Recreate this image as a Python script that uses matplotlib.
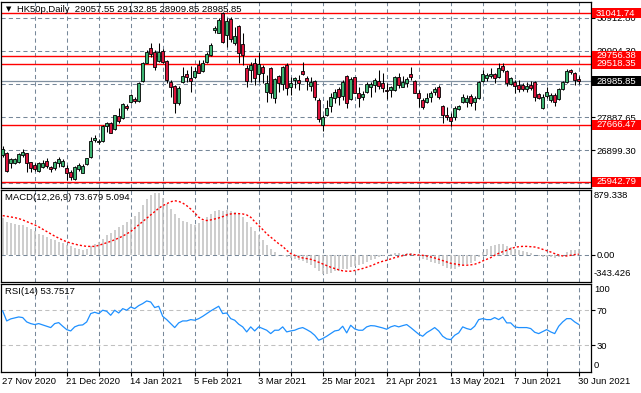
import matplotlib
matplotlib.use('Agg')
import matplotlib.pyplot as plt
from matplotlib.patches import Rectangle
import numpy as np

plt.rcParams['font.family'] = ['Liberation Sans', 'DejaVu Sans']

# HK50p daily, 27 Nov 2020 .. 30 Jun 2021
opens = [26751, 26822, 26499, 26519, 26549, 26741, 26802, 26529, 26448, 26277,
         26398, 26580, 26398, 26347, 26499, 26428, 26347, 26247, 26014, 26317,
         26216, 26479, 26681, 27205, 27135, 27175, 27629, 27710, 27539, 27932,
         27861, 28235, 28366, 28457, 28396, 28992, 29547, 29981, 29880, 29608,
         29910, 29597, 28972, 28840, 28336, 28972, 29204, 29073, 29123, 29476,
         29305, 29577, 29779, 30546, 30455, 31041, 30385, 30869, 30132, 30657,
         30102, 29375, 29325, 29527, 29204, 29406, 28669, 29375, 28467, 29143,
         28901, 29476, 28820, 29022, 29022, 29305, 29073, 28851, 28992, 28417,
         27660, 27962, 28235, 28467, 28740, 28548, 29143, 28437, 29103, 28618,
         28517, 28669, 28820, 28871, 29002, 28921, 28710, 28719, 28719, 29103,
         28820, 28921, 29204, 28992, 28639, 28417, 28366, 28497, 28669, 28800,
         28235, 27962, 27912, 27892, 28134, 28366, 28346, 28548, 28366, 28487,
         29002, 29073, 29143, 29204, 29103, 29446, 29295, 28891, 28972, 28871,
         28871, 28740, 28871, 28972, 28598, 28164, 28538, 28417, 28568, 28447,
         28740, 28952, 29325, 29244, 29057.55]
highs = [27034, 26852, 26650, 26650, 26822, 26923, 26822, 26549, 26499, 26529,
         26600, 26650, 26428, 26570, 26701, 26620, 26448, 26297, 26428, 26499,
         26479, 26650, 27306, 27357, 27226, 27660, 27750, 27760, 27962, 28185,
         28316, 28296, 28598, 28497, 28972, 29567, 29931, 30153, 29931, 30132,
         29951, 29628, 29022, 28871, 28840, 29426, 29325, 29446, 29426, 29628,
         29628, 29880, 30132, 30657, 30889, 31091, 30889, 30940, 30637, 30687,
         30435, 29476, 29577, 29678, 29880, 29476, 29174, 29426, 29073, 29174,
         29446, 29547, 29103, 29123, 29174, 29577, 29143, 29103, 29022, 28467,
         27962, 28417, 28618, 28740, 28800, 29022, 29174, 29103, 29123, 28820,
         28699, 28972, 28972, 29073, 29325, 29224, 28921, 28840, 29143, 29224,
         29143, 29123, 29426, 29022, 28719, 28467, 28618, 28699, 28800, 28871,
         28265, 28215, 28013, 28235, 28265, 28598, 28568, 28598, 28538, 28992,
         29325, 29224, 29375, 29244, 29527, 29527, 29325, 29103, 29022, 29022,
         28921, 28972, 28992, 28992, 28639, 28598, 28800, 28618, 28618, 28770,
         28992, 29345, 29355, 29275, 29132.85]
lows = [26701, 26247, 26347, 26479, 26499, 26701, 26247, 26247, 26267, 26247,
        26347, 26347, 26247, 26297, 26398, 26398, 25994, 25994, 25994, 26277,
        26196, 26448, 26650, 27155, 27084, 27155, 27458, 27407, 27508, 27710,
        27831, 28114, 28316, 28316, 28366, 28972, 29527, 29729, 29325, 29577,
        29527, 28921, 28517, 28013, 28265, 28921, 28972, 28669, 29073, 29224,
        29275, 29527, 29749, 30435, 30435, 30132, 30031, 30183, 30082, 29527,
        29476, 28800, 28972, 28871, 28972, 28921, 28366, 28467, 28336, 28669,
        28719, 28568, 28568, 28770, 28719, 29174, 28719, 28699, 28417, 27760,
        27488, 27932, 28063, 28316, 28265, 28417, 28164, 28417, 28618, 28215,
        28417, 28639, 28497, 28669, 28740, 28669, 28437, 28517, 28699, 28770,
        28800, 28820, 29022, 28618, 28195, 28144, 28316, 28366, 28568, 28437,
        27730, 27811, 27629, 27811, 28114, 28316, 28215, 28235, 28114, 28437,
        28972, 29002, 29073, 28921, 29073, 29275, 28840, 28871, 28618, 28669,
        28699, 28669, 28719, 28396, 28437, 28134, 28467, 28366, 28235, 28417,
        28719, 28921, 29204, 28871, 28909.85]
closes = [26933, 26277, 26620, 26620, 26781, 26832, 26519, 26368, 26327, 26499,
          26519, 26418, 26327, 26529, 26620, 26580, 26216, 26095, 26398, 26448,
          26428, 26650, 27175, 27266, 27185, 27629, 27710, 27428, 27962, 27791,
          28285, 28164, 28558, 28376, 28942, 29527, 29880, 29809, 29426, 29880,
          29577, 29022, 28820, 28336, 28770, 29143, 29103, 29002, 29295, 29224,
          29527, 29799, 30082, 30587, 30839, 30183, 30809, 30264, 30354, 29830,
          29779, 29002, 29476, 29073, 29497, 29244, 28921, 28639, 29042, 28921,
          29406, 28770, 28921, 29073, 28921, 29204, 28992, 28972, 28517, 27831,
          27912, 28164, 28497, 28649, 28517, 28972, 28316, 29052, 28639, 28467,
          28598, 28891, 28891, 29022, 28840, 28770, 28699, 28800, 29103, 28871,
          28972, 29042, 29103, 28639, 28467, 28195, 28467, 28618, 28740, 28517,
          27962, 27892, 27791, 28164, 28235, 28517, 28487, 28316, 28467, 28972,
          29204, 29174, 29204, 29093, 29375, 29325, 28942, 29073, 28840, 28740,
          28740, 28840, 28770, 28517, 28467, 28517, 28649, 28568, 28366, 28740,
          28972, 29305, 29254, 29022, 28985.85]

macd_main = [480, 420, 408, 395, 386, 378, 356, 335, 305, 270,
             249, 227, 206, 184, 163, 150, 129, 112, 86, 69,
             64, 77, 112, 142, 163, 206, 249, 283, 322, 356,
             386, 420, 463, 498, 549, 640, 720, 770, 800, 805,
             740, 660, 590, 530, 472, 442, 420, 399, 390, 412,
             442, 485, 528, 571, 583, 571, 583, 571, 558, 528,
             485, 420, 356, 313, 249, 184, 120, 69, 34, -9,
             -17, -30, -43, -60, -73, -86, -103, -137, -172, -215,
             -245, -245, -232, -215, -206, -189, -180, -159, -146, -137,
             -120, -94, -73, -51, -30, -17, -9, 4, 17, 21,
             13, 17, 26, 9, -17, -51, -73, -94, -103, -116,
             -146, -167, -180, -180, -163, -137, -116, -103, -86, -30,
             34, 77, 107, 120, 142, 142, 112, 94, 77, 60,
             43, 34, 21, 0, -17, -34, -30, -34, -43, -30,
             -9, 34, 56, 64, 73.679]
macd_signal = [506, 498, 489, 480, 468, 450, 429, 408, 386, 360,
               330, 300, 270, 240, 215, 189, 167, 150, 137, 124,
               116, 107, 107, 107, 120, 137, 154, 172, 193, 215,
               240, 270, 300, 343, 386, 429, 472, 515, 558, 601,
               635, 661, 686, 699, 691, 669, 635, 592, 541, 485,
               455, 442, 450, 463, 476, 493, 515, 528, 532, 532,
               528, 515, 485, 429, 378, 326, 270, 227, 184, 142,
               107, 56, 13, -9, -30, -43, -51, -60, -77, -99,
               -120, -142, -163, -180, -197, -210, -215, -215, -206, -193,
               -180, -163, -146, -124, -103, -86, -73, -56, -39, -26,
               -13, 0, 4, 0, -4, -9, -17, -30, -43, -60,
               -77, -94, -112, -120, -129, -137, -137, -133, -124, -107,
               -82, -60, -39, -9, 17, 39, 56, 77, 94, 103,
               107, 107, 103, 99, 86, 69, 51, 34, 13, -4,
               -17, -17, -9, 0, 5.094]
rsi = [69.0, 57.7, 60.0, 61.1, 62.2, 61.5, 56.6, 54.7, 53.6, 54.7,
       53.2, 51.7, 50.2, 54.7, 55.8, 51.7, 47.9, 46.4, 51.0, 52.8,
       53.2, 56.6, 66.0, 67.5, 66.0, 69.8, 68.6, 64.1, 69.8, 66.7,
       71.6, 69.8, 73.5, 71.6, 75.0, 77.3, 80.3, 79.1, 72.8, 74.3,
       62.9, 59.2, 54.7, 50.2, 55.5, 57.7, 57.7, 59.2, 58.5, 60.3,
       62.9, 66.0, 69.0, 71.6, 74.3, 66.0, 66.7, 60.3, 58.5, 54.0,
       51.0, 45.3, 51.0, 46.4, 51.0, 49.1, 47.2, 43.4, 47.2, 47.2,
       51.0, 45.3, 46.4, 47.2, 49.1, 50.2, 47.9, 45.3, 41.5, 35.9,
       37.8, 40.4, 43.4, 46.4, 47.2, 51.7, 44.2, 52.8, 48.7, 47.2,
       47.2, 51.0, 52.4, 52.1, 51.0, 49.8, 48.3, 51.0, 52.4, 51.0,
       52.4, 53.6, 50.2, 46.4, 42.7, 40.4, 44.5, 47.2, 50.2, 46.4,
       40.4, 37.4, 36.6, 41.5, 44.2, 51.0, 49.1, 47.9, 51.7, 59.2,
       60.3, 59.2, 59.2, 61.5, 59.2, 62.2, 55.5, 55.5, 51.0, 50.2,
       50.2, 50.2, 49.1, 44.9, 43.4, 45.7, 47.9, 45.3, 43.4, 51.7,
       56.6, 60.3, 60.3, 56.6, 53.7517]

date_labels = ['27 Nov 2020', '21 Dec 2020', '14 Jan 2021', '5 Feb 2021', '3 Mar 2021',
               '25 Mar 2021', '21 Apr 2021', '13 May 2021', '7 Jun 2021', '30 Jun 2021']
levels = [31041.74, 29756.38, 29518.35, 27666.47, 25942.79]
last_price = 28985.85
price_ticks = [30912.80, 29904.30, 28896.00, 27887.65, 26899.30, 25910.95]
# the 28896.00 and 25910.95 labels sit fully under the price boxes
price_tick_labels = ['30912.80', '29904.30', '', '27887.65', '26899.30', '']

W, H = 641, 393
GRID = '#778899'
FS = 6.8

fig = plt.figure(figsize=(W / 100, H / 100), dpi=100)
n = len(closes)
x = np.arange(n)
grid_x = np.arange(8, n, 8)


def add_panel(x0, y0, x1, y1):
    a = fig.add_axes([x0 / W, 1 - y1 / H, (x1 - x0) / W, (y1 - y0) / H])
    for s in a.spines.values():
        s.set_color('black')
        s.set_linewidth(0.9)
    a.set_xlim(-0.55, 146.95)
    a.set_xticks([])
    for gx in grid_x:
        a.axvline(gx, color=GRID, lw=0.75, ls=(0, (4, 3)), zorder=1)
    return a


ax = add_panel(0.5, 2, 590.5, 188)
ax_m = add_panel(0.5, 189.5, 590.5, 282)
ax_r = add_panel(0.5, 283.5, 590.5, 372)

# price panel
ax.set_ylim(25752, 31384)
for v in price_ticks:
    ax.axhline(v, color=GRID, lw=0.75, ls=(0, (4, 3)), zorder=1)
for v in levels:
    ax.axhline(v, color='#ff0000', lw=1.0, zorder=2)
ax.axhline(last_price, color='#8090a0', lw=0.9, zorder=2)

o = np.array(opens)
c = np.array(closes)
up = c >= o
ax.vlines(x, lows, highs, color='black', lw=0.75, zorder=3)
body = np.maximum(np.abs(c - o), 8)
ax.bar(x, body, bottom=np.minimum(o, c), width=0.62,
       color=np.where(up, '#3cb371', '#dc143c'), edgecolor='black',
       linewidth=0.6, zorder=4)

ax.yaxis.tick_right()
ax.set_yticks(price_ticks)
ax.set_yticklabels(price_tick_labels)
ax.tick_params(axis='y', length=3, width=0.8, pad=1.5, labelsize=FS)


def price_box(v, fc):
    yd = ax.transData.transform((0, v))[1]
    fig.add_artist(Rectangle((592 / W, (yd - 5) / H), 49 / W, 10 / H,
                             transform=fig.transFigure, facecolor=fc,
                             edgecolor='none', zorder=5))
    fig.text(596 / W, yd / H, f'{v:.2f}', color='white', fontsize=FS,
             va='center', ha='left', zorder=6)


for v in levels:
    price_box(v, '#ff0000')
price_box(last_price, 'black')

fig.text(6 / W, 1 - 9 / H, '\u25bc', fontsize=5, va='center', family=['DejaVu Sans'])
fig.text(17 / W, 1 - 9 / H, 'HK50p,Daily  29057.55 29132.85 28909.85 28985.85',
         fontsize=FS, va='center')

# MACD panel
ax_m.set_ylim(-355, 845)
ax_m.axhline(0, color=GRID, lw=0.75, ls=(0, (4, 3)), zorder=1)
ax_m.vlines(x, 0, macd_main, color='#c0c0c0', lw=1.1, zorder=2)
ax_m.plot(x, macd_signal, color='#ff0000', lw=1.0, ls=(0, (1.5, 1.5)), zorder=3)
ax_m.yaxis.tick_right()
ax_m.set_yticks([0])
ax_m.set_yticklabels(['0.00'])
ax_m.tick_params(axis='y', length=3, width=0.8, pad=1.5, labelsize=FS)
fig.text(594 / W, 1 - 195 / H, '879.338', fontsize=FS, va='center')
fig.text(594 / W, 1 - 273 / H, '-343.426', fontsize=FS, va='center')
fig.text(5 / W, 1 - 197.5 / H, 'MACD(12,26,9) 73.679 5.094', fontsize=FS, va='center')

# RSI panel
ax_r.set_ylim(0, 100)
for lv in (70, 30):
    ax_r.axhline(lv, color='#c0c0c0', lw=0.75, ls=(0, (4, 3)), zorder=1)
ax_r.plot(x, rsi, color='#1e90ff', lw=0.9, zorder=3)
ax_r.yaxis.tick_right()
ax_r.set_yticks([30, 70])
ax_r.set_yticklabels(['30', '70'])
ax_r.tick_params(axis='y', length=3, width=0.8, pad=1.5, labelsize=FS)
fig.text(594 / W, 1 - 290 / H, '100', fontsize=FS, va='center')
fig.text(594 / W, 1 - 366 / H, '0', fontsize=FS, va='center')
fig.text(5 / W, 1 - 291.5 / H, 'RSI(14) 53.7517', fontsize=FS, va='center')

ax_r.set_xticks(grid_x)
ax_r.set_xticklabels([])
ax_r.tick_params(axis='x', length=3, width=0.8)
for k, lab in enumerate(date_labels):
    xd = ax_r.transData.transform((16 * k, 0))[0]
    fig.text((xd - 1) / W, 1 - 382 / H, lab, fontsize=FS, va='center', ha='left')

fig.savefig('out.png', dpi=100)
